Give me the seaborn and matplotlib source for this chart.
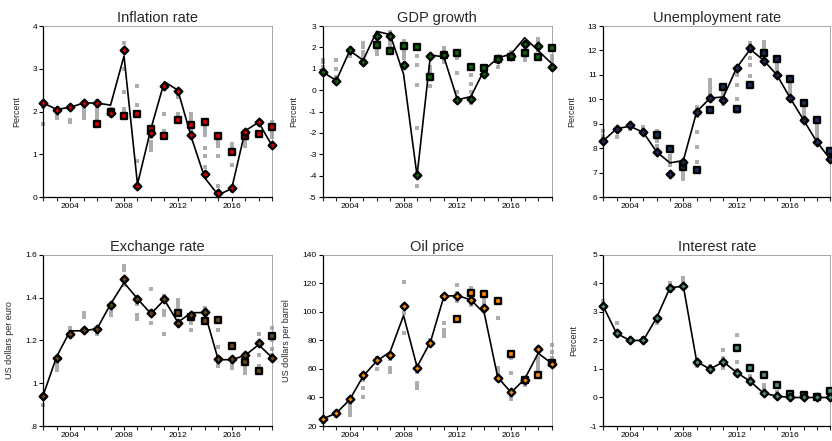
import numpy as np
import pandas as pd
import matplotlib
matplotlib.use('Agg')
import matplotlib.pyplot as plt
from matplotlib.ticker import FuncFormatter
import seaborn as sns

YEARS = list(range(2002, 2020))

TITLES = ['Inflation rate', 'GDP growth', 'Unemployment rate',
          'Exchange rate', 'Oil price', 'Interest rate']
YLABELS = ['Percent', 'Percent', 'Percent',
           'US dollars per euro', 'US dollars per barrel', 'Percent']
YLIMS = [(0, 4), (-5, 3), (6, 13), (0.8, 1.6), (20, 140), (-1, 5)]
YSTEPS = [1, 1, 1, 0.2, 20, 1]
COLORS = ['#e00000', '#0a6a0a', '#1c2f5c', '#6b4a1a', '#ff8c00', '#4f8f86']

# actual outcome (line)
inflation_actual = [2.2, 2.05, 2.1, 2.2, 2.2, 2.15, 3.3, 0.3, 1.6, 2.7, 2.5, 1.4, 0.45, 0.05, 0.2, 1.55, 1.75, 1.2]
gdp_actual = [0.85, 0.45, 1.85, 1.4, 2.75, 2.6, 0.75, -4.0, 1.65, 1.55, -0.45, -0.3, 0.95, 1.5, 1.7, 2.45, 1.85, 1.25]
unemp_actual = [8.3, 8.8, 8.9, 8.65, 7.85, 7.4, 7.5, 9.5, 10.05, 10.1, 11.3, 12.05, 11.6, 11.0, 10.05, 9.15, 8.25, 7.55]
fx_actual = [0.945, 1.125, 1.245, 1.245, 1.255, 1.37, 1.47, 1.395, 1.325, 1.39, 1.285, 1.33, 1.33, 1.11, 1.11, 1.13, 1.18, 1.12]
oil_actual = [25, 29, 38.5, 55, 65.5, 72, 97.5, 61.5, 79, 111, 111.5, 108.5, 99, 54, 43.5, 53, 71, 64]
rate_actual = [3.2, 2.25, 2.0, 2.0, 2.8, 3.85, 3.9, 1.25, 1.0, 1.25, 0.87, 0.57, 0.15, 0.05, 0.0, 0.0, 0.0, 0.0]

# current-year projection (diamonds)
inflation_now = [2.2, 2.03, 2.1, 2.2, 2.2, 1.97, 3.45, 0.27, 1.5, 2.6, 2.48, 1.45, 0.53, 0.1, 0.22, 1.52, 1.75, 1.22]
gdp_now = [0.85, 0.45, 1.88, 1.3, 2.55, 2.55, 1.2, -3.95, 1.6, 1.65, -0.45, -0.4, 0.75, 1.45, 1.6, 2.15, 2.05, 1.1]
unemp_now = [8.3, 8.8, 8.95, 8.65, 7.85, 6.95, 7.45, 9.5, 10.05, 9.98, 11.28, 12.1, 11.58, 11.0, 10.07, 9.15, 8.25, 7.58]
fx_now = [0.94, 1.12, 1.23, 1.25, 1.255, 1.365, 1.485, 1.395, 1.33, 1.395, 1.28, 1.32, 1.335, 1.115, 1.115, 1.13, 1.19, 1.12]
oil_now = [25, 29, 39, 55.5, 66, 70, 104, 61, 78, 111, 111.5, 108.5, 103, 54, 43.5, 52.5, 74, 63.5]
rate_now = [3.2, 2.25, 2.0, 2.0, 2.8, 3.85, 3.9, 1.25, 1.0, 1.25, 0.87, 0.57, 0.15, 0.05, 0.0, 0.0, 0.0, 0.0]

# year-ahead projection (squares)
inflation_ahead_years = list(range(2006, 2020))
inflation_ahead = [1.72, 2.0, 1.9, 1.95, 1.6, 1.43, 1.8, 1.68, 1.75, 1.43, 1.05, 1.42, 1.47, 1.65]
gdp_ahead_years = list(range(2006, 2020))
gdp_ahead = [2.12, 1.85, 2.08, 2.02, 0.62, 1.65, 1.72, 1.1, 1.05, 1.45, 1.55, 1.75, 1.55, 1.95]
unemp_ahead_years = list(range(2006, 2020))
unemp_ahead = [8.55, 7.95, 7.25, 7.1, 9.55, 10.5, 9.62, 10.6, 11.9, 11.65, 10.85, 9.85, 9.15, 7.9]
fx_ahead_years = list(range(2012, 2020))
fx_ahead = [1.33, 1.31, 1.29, 1.295, 1.175, 1.1, 1.055, 1.22]
oil_ahead_years = list(range(2012, 2020))
oil_ahead = [95, 113.5, 112.5, 107.5, 70.5, 52, 56, 64]
rate_ahead_years = list(range(2012, 2020))
rate_ahead = [1.72, 1.02, 0.78, 0.43, 0.12, 0.1, 0.0, 0.23]

# other forecasters (gray), one list per year 2002..2019
inflation_other = [[1.7, 2.1], [1.85, 1.9, 1.95, 2.0], [1.75, 1.8, 2.05], [1.85, 1.9, 1.95, 2.0, 2.05, 2.1],
                   [1.75, 1.85, 1.9, 1.95, 2.0, 2.05, 2.1, 2.15, 2.25], [1.9, 1.95, 2.0, 2.05],
                   [1.9, 1.95, 2.0, 2.05, 2.45, 3.0, 3.6], [0.85, 2.15, 2.6], [1.1, 1.15, 1.2, 1.3, 1.4, 1.5, 1.55],
                   [1.55, 1.95, 2.55], [1.8, 1.9, 1.95, 2.35, 2.45], [1.4, 1.5, 1.6, 1.7, 1.8, 1.9, 1.95],
                   [0.7, 0.95, 1.15, 1.45, 1.55, 1.65, 1.7], [0.25, 0.95, 1.2, 1.25, 1.3], [0.75, 1.1, 1.2, 1.25],
                   [1.2, 1.3, 1.4, 1.45], [1.45, 1.5, 1.75], [1.25, 1.4, 1.5, 1.6, 1.75]]
gdp_other = [[0.9, 1.1, 1.3, 1.4], [0.6, 1.0, 1.4], [1.6, 1.7, 1.9], [1.5, 1.6, 1.8, 2.0, 2.1, 2.2],
             [1.7, 1.8, 1.9, 2.0, 2.2, 2.4], [1.9, 2.1, 2.3, 2.5, 2.7], [1.5, 1.6, 1.7, 1.8, 2.0, 2.2, 2.3],
             [-4.5, -1.75, 0.25, 1.2, 1.6, 2.0], [0.2, 0.5, 0.9, 1.1, 1.6], [1.3, 1.5, 1.8, 1.95],
             [-0.1, 0.8, 1.5, 1.6], [-0.6, -0.5, -0.1, 0.3, 0.7, 1.0], [0.9, 1.1], [1.1, 1.3, 1.5],
             [1.6, 1.7, 1.8], [1.4, 1.6, 1.9, 2.0], [1.9, 2.1, 2.3, 2.4], [1.4, 1.6, 1.9]]
unemp_other = [[8.5, 8.7], [8.45, 8.75], [8.8, 8.9], [8.6, 8.75, 8.85], [8.1, 8.3, 8.4, 8.7], [7.3, 7.5, 7.7],
               [6.75, 6.9, 7.0, 7.1, 7.2, 7.4], [7.45, 8.05, 8.65, 9.3, 9.55, 9.7], [10.2, 10.35, 10.5, 10.65, 10.8],
               [9.8, 10.0, 10.2, 10.4], [9.5, 10.0, 10.6, 11.0, 11.2], [10.95, 11.4, 11.7, 12.0, 12.2, 12.3],
               [11.7, 12.0, 12.2, 12.35], [11.1, 11.3, 11.45, 11.6], [10.2, 10.35, 10.5, 10.6, 10.7],
               [9.3, 9.45, 9.6, 9.75, 9.9], [8.4, 8.55, 8.7, 8.85, 9.0], [7.7, 7.8]]
fx_other = [[0.9], [1.06, 1.08, 1.1], [1.24, 1.26], [1.31, 1.33], [1.23, 1.24], [1.32, 1.34, 1.36],
            [1.46, 1.53, 1.55], [1.3, 1.32, 1.37], [1.28, 1.34, 1.44], [1.23, 1.32, 1.34, 1.41],
            [1.29, 1.35, 1.37, 1.39], [1.25, 1.28, 1.3, 1.32], [1.29, 1.32, 1.35], [1.08, 1.1, 1.17, 1.25, 1.3],
            [1.07, 1.08, 1.1, 1.12], [1.05, 1.06, 1.08], [1.06, 1.08, 1.13, 1.18, 1.23], [1.13, 1.16, 1.2, 1.26]]
oil_other = [[23], [27], [28, 30, 31, 33, 35], [40, 47, 52], [60, 66, 68], [58, 61, 67], [85, 99, 121],
             [47, 49, 50, 58], [80], [83, 85, 87, 92], [108, 110, 113, 119], [105, 107, 110, 117],
             [106, 108, 110], [57, 59, 61, 96, 106], [39, 41, 57, 68], [49, 51], [59, 62, 64, 66, 68],
             [66, 68, 72, 77]]
rate_other = [[3.4], [2.2, 2.6], [2.0], [2.1], [2.6], [4.0], [4.1, 4.2], [1.1, 1.3], [1.1], [1.05, 1.4, 1.65],
              [0.95, 1.25, 2.2], [0.75], [0.3, 0.45], [0.1, 0.2], [0.05], [0.05], [0.0], [0.05]]

ACTUAL = [inflation_actual, gdp_actual, unemp_actual, fx_actual, oil_actual, rate_actual]
NOW = [inflation_now, gdp_now, unemp_now, fx_now, oil_now, rate_now]
AHEAD_YEARS = [inflation_ahead_years, gdp_ahead_years, unemp_ahead_years,
               fx_ahead_years, oil_ahead_years, rate_ahead_years]
AHEAD = [inflation_ahead, gdp_ahead, unemp_ahead, fx_ahead, oil_ahead, rate_ahead]
OTHER = [inflation_other, gdp_other, unemp_other, fx_other, oil_other, rate_other]


def tick_fmt(v, pos):
    s = f'{v:.1f}'.rstrip('0').rstrip('.')
    if s.startswith('0.'):
        s = s[1:]
    if s == '-0':
        s = '0'
    return s


def main():
    sns.set_style('ticks')
    plt.rcParams['font.family'] = ['Liberation Sans', 'DejaVu Sans']

    fig = plt.figure(figsize=(8.32, 4.41), dpi=100)
    lefts = [0.052, 0.388, 0.725]
    bottoms = [0.553, 0.034]
    widths = [0.275, 0.275, 0.273]

    for i in range(6):
        r, c = divmod(i, 3)
        ax = fig.add_axes([lefts[c], bottoms[r], widths[c], 0.388])

        other = pd.DataFrame([(y, v) for y, vals in zip(YEARS, OTHER[i]) for v in vals],
                             columns=['year', 'value'])
        sns.scatterplot(data=other, x='year', y='value', ax=ax, marker='s', s=7,
                        color='#adadad', linewidth=0, zorder=2, clip_on=False)

        sns.lineplot(x=YEARS, y=ACTUAL[i], ax=ax, color='black', linewidth=1.2, zorder=3)

        sns.scatterplot(x=AHEAD_YEARS[i], y=AHEAD[i], ax=ax, marker='s', s=14,
                        color=COLORS[i], edgecolor='black', linewidth=1.7, zorder=4, clip_on=False)
        sns.scatterplot(x=YEARS, y=NOW[i], ax=ax, marker='D', s=15,
                        color=COLORS[i], edgecolor='black', linewidth=1.7, zorder=5, clip_on=False)

        ax.set_xlim(2002, 2019)
        ax.set_ylim(*YLIMS[i])
        lo, hi = YLIMS[i]
        ax.set_yticks(np.arange(lo, hi + YSTEPS[i] / 2, YSTEPS[i]))
        ax.yaxis.set_major_formatter(FuncFormatter(tick_fmt))
        ax.set_xticks([2004, 2008, 2012, 2016])
        ax.set_xticks(YEARS, minor=True)
        ax.tick_params(axis='both', which='major', labelsize=6, length=3, width=0.8,
                       pad=1.5, colors='black')
        ax.tick_params(axis='x', which='minor', length=3, width=0.8)

        for side in ['left', 'bottom']:
            ax.spines[side].set_color('black')
            ax.spines[side].set_linewidth(0.9)
        for side in ['top', 'right']:
            ax.spines[side].set_visible(True)
            ax.spines[side].set_color('#999999')
            ax.spines[side].set_linewidth(0.6)

        ax.set_title(TITLES[i], fontsize=10.5, pad=3)
        ax.set_ylabel(YLABELS[i], fontsize=6.5, labelpad=8)
        ax.set_xlabel('')

    fig.savefig('out.png', dpi=100)


if __name__ == '__main__':
    main()
